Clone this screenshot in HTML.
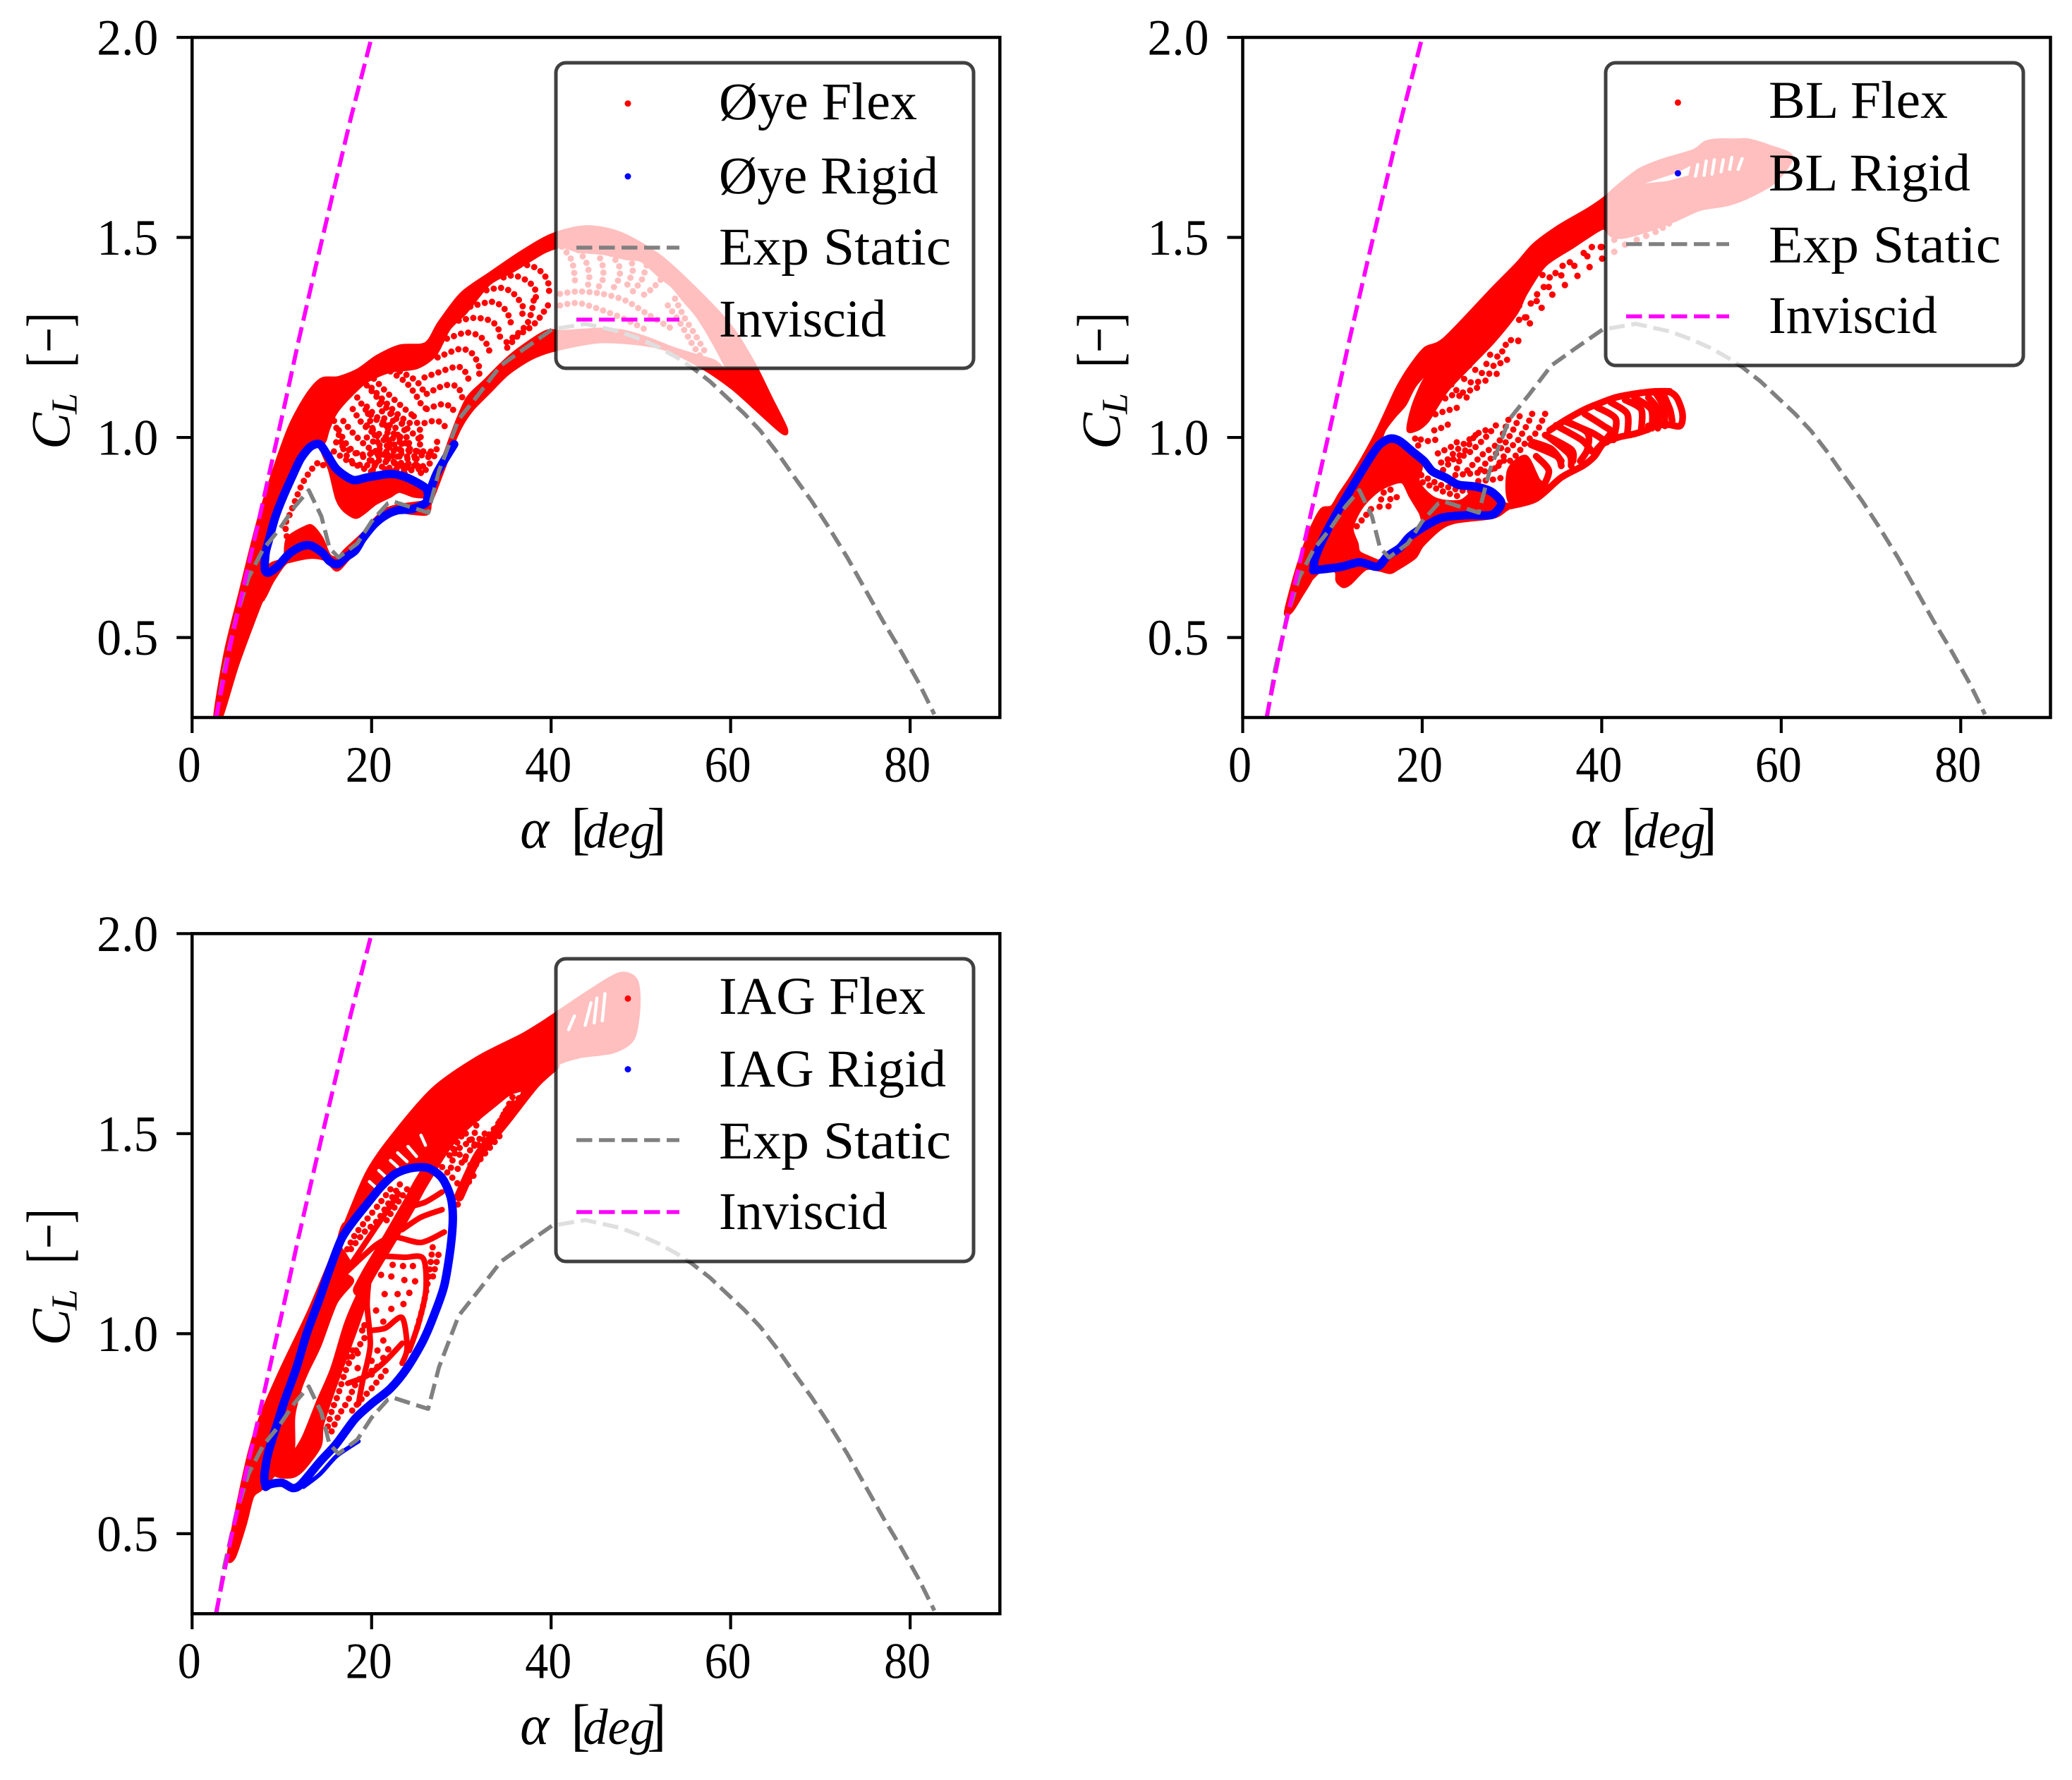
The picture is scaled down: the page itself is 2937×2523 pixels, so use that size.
<!DOCTYPE html>
<html lang="en">
<head>
<meta charset="utf-8">
<title>Lift coefficient versus angle of attack</title>
<style>
html,body{margin:0;padding:0;background:#fff;}
svg{display:block;}
text{font-family:"Liberation Serif",serif;fill:#000;}
.it{font-style:italic;}
.legend-box{fill:rgba(255,255,255,.75);stroke:rgba(0,0,0,.75);stroke-width:5;}
.lt{font-size:75px;}
</style>
</head>
<body>
<svg id="chart" xmlns="http://www.w3.org/2000/svg" width="2937" height="2523" viewBox="0 0 2937 2523">
<rect width="2937" height="2523" fill="#fff"/>
<defs>
<clipPath id="clip-oye"><rect x="272.3" y="53" width="1145" height="964"/></clipPath>
<clipPath id="clip-bl"><rect x="1761.5" y="53" width="1145" height="964"/></clipPath>
<clipPath id="clip-iag"><rect x="272.3" y="1323.3" width="1145" height="964"/></clipPath>
</defs>

<g id="panel-oye">
<g id="plot-oye" clip-path="url(#clip-oye)"></g>
<g id="axes-oye"></g>
<g>
<rect class="legend-box" x="788" y="89" width="592" height="433" rx="14"/>
<circle cx="890" cy="146.7" r="4.5" fill="#f00"/>
<text class="lt" x="1019" y="169" textLength="281" lengthAdjust="spacingAndGlyphs">Øye Flex</text>
<circle cx="890" cy="250" r="4.5" fill="#00f"/>
<text class="lt" x="1019" y="274" textLength="311" lengthAdjust="spacingAndGlyphs">Øye Rigid</text>
<line x1="817" x2="963" y1="351" y2="351" stroke="#808080" stroke-width="5.6" stroke-dasharray="22.5 9.5"/>
<text class="lt" x="1019" y="375" textLength="329" lengthAdjust="spacingAndGlyphs">Exp Static</text>
<line x1="817" x2="963" y1="453" y2="453" stroke="#f0f" stroke-width="5.6" stroke-dasharray="22.5 9.5"/>
<text class="lt" x="1019" y="477" textLength="237" lengthAdjust="spacingAndGlyphs">Inviscid</text>
</g>
</g>

<g id="panel-bl">
<g id="plot-bl" clip-path="url(#clip-bl)"></g>
<g id="axes-bl"></g>
<g>
<rect class="legend-box" x="2276" y="89" width="592" height="429" rx="14"/>
<circle cx="2378.4" cy="145.4" r="4.5" fill="#f00"/>
<text class="lt" x="2507" y="167" textLength="254" lengthAdjust="spacingAndGlyphs">BL Flex</text>
<circle cx="2378.4" cy="245.6" r="4.5" fill="#00f"/>
<text class="lt" x="2507" y="270" textLength="286" lengthAdjust="spacingAndGlyphs">BL Rigid</text>
<line x1="2305" x2="2451" y1="346" y2="346" stroke="#808080" stroke-width="5.6" stroke-dasharray="22.5 9.5"/>
<text class="lt" x="2507" y="372" textLength="329" lengthAdjust="spacingAndGlyphs">Exp Static</text>
<line x1="2305" x2="2451" y1="448.4" y2="448.4" stroke="#f0f" stroke-width="5.6" stroke-dasharray="22.5 9.5"/>
<text class="lt" x="2507" y="472" textLength="239" lengthAdjust="spacingAndGlyphs">Inviscid</text>
</g>
</g>

<g id="panel-iag">
<g id="plot-iag" clip-path="url(#clip-iag)"></g>
<g id="axes-iag"></g>
<g>
<rect class="legend-box" x="788" y="1359" width="592" height="429" rx="14"/>
<circle cx="890" cy="1415.4" r="4.5" fill="#f00"/>
<text class="lt" x="1019" y="1437" textLength="293" lengthAdjust="spacingAndGlyphs">IAG Flex</text>
<circle cx="890" cy="1515.6" r="4.5" fill="#00f"/>
<text class="lt" x="1019" y="1540" textLength="322" lengthAdjust="spacingAndGlyphs">IAG Rigid</text>
<line x1="817" x2="963" y1="1616" y2="1616" stroke="#808080" stroke-width="5.6" stroke-dasharray="22.5 9.5"/>
<text class="lt" x="1019" y="1642" textLength="329" lengthAdjust="spacingAndGlyphs">Exp Static</text>
<line x1="817" x2="963" y1="1718" y2="1718" stroke="#f0f" stroke-width="5.6" stroke-dasharray="22.5 9.5"/>
<text class="lt" x="1019" y="1742" textLength="239" lengthAdjust="spacingAndGlyphs">Inviscid</text>
</g>
</g>
</svg>

<script>
/* ---------- shared axis values ---------- */
const xTickValues = [0, 20, 40, 60, 80];
const xTickLabels = ["0", "20", "40", "60", "80"];
const yTickValues = [0.5, 1.0, 1.5, 2.0];
const yTickLabels = ["0.5", "1.0", "1.5", "2.0"];
const xDomain = [0, 90];
const yDomain = [0.3, 2.0];

/* ---------- shared reference curves: [alpha, CL] ---------- */
const expStatic = [[2.7,.3],[3.6,.42],[4.96,.555],[6.3,.65],[7.9,.72],[9.7,.77],[11.4,.826],[13,.868],[14.4,.803],[15.3,.724],[16.3,.70],[18.4,.735],[20,.79],[21.8,.835],[22.4,.84],[26.3,.812],[27.5,.916],[29.7,1.045],[31.9,1.107],[34.4,1.18],[36.9,1.22],[40.1,1.27],[43.8,1.284],[47.6,1.265],[50,1.245],[52,1.225],[54,1.2],[55.7,1.175],[57.7,1.14],[59.6,1.10],[61.5,1.06],[63.3,1.017],[65.2,.962],[67,.904],[69,.842],[70.8,.78],[73,.70],[75.2,.612],[77,.54],[79,.465],[81,.385],[82.7,.308]];
const inviscid = [[2.66,.3],[4.35,.49],[7.5,.80],[10.3,1.08],[11.8,1.235],[13.8,1.43],[16,1.64],[17.7,1.80],[20,2.0]];

/* ---------- Oye ---------- */
const oyeFlexMain = [[2.5,.30],[3.7,.465],[5.3,.61],[7.2,.78],[9.05,.916],[10.9,1.03],[12.8,1.107],[14.4,1.146],[16.3,1.15],[18.45,1.169],[20.6,1.203],[23.15,1.229],[26,1.235],[27.5,1.287],[30,1.36],[33.2,1.411],[36.9,1.467],[40.1,1.507],[43.8,1.527],[47.6,1.512],[52,1.456],[56.4,1.366],[60.1,1.276],[62.6,1.186],[64.5,1.10],[66.2,1.023],[65.8,1.011],[63.2,1.062],[60.1,1.124],[56.4,1.18],[52,1.225],[45.7,1.239],[40.4,1.218],[37.8,1.197],[35.2,1.159],[33.1,1.112],[31.3,1.071],[30.2,1.036],[29.4,1.0],[28.1,.924],[27.1,.865],[26.3,.824],[26.6,.88],[27.8,.94],[29.4,1.036],[30.7,1.1],[32.6,1.142],[34.4,1.183],[36.2,1.218],[39.4,1.265],[41.2,1.265],[45.7,1.271],[48.3,1.265],[50.9,1.247],[53.5,1.224],[56.2,1.205],[58.3,1.19],[59.8,1.159],[58.8,1.206],[57.5,1.259],[56.15,1.306],[54.6,1.347],[53.5,1.377],[52.2,1.4],[50.1,1.441],[48.3,1.447],[45.7,1.46],[43.05,1.465],[41.2,1.477],[39.4,1.465],[37.8,1.444],[35.7,1.415],[33.1,1.383],[30.5,1.312],[28.65,1.271],[27.1,1.206],[25,1.174],[22.1,1.165],[19.47,1.14],[17.5,1.10],[16,1.06],[15.2,1.02],[14.6,.985],[12.7,.98],[11.1,.9],[10.05,.847],[9.25,.8],[8.6,.747],[8.2,.712],[8.1,.671],[8.0,.60],[7.55,.58],[5.1,.432],[3.3,.302]];
const oyeFlexLowerHump = [[8.0,.60],[9,.641],[10.3,.683],[11.1,.691],[13.2,.70],[14.8,.694],[16.1,.668],[17.2,.69],[18.3,.72],[19.2,.76],[20.4,.79],[21.6,.81],[22.9,.815],[24.5,.81],[26.3,.81],[26.5,.845],[26,.84],[24.5,.835],[22.9,.83],[21.6,.82],[20.3,.795],[19,.76],[17.1,.72],[16.2,.70],[15.3,.706],[14.5,.747],[13.45,.777],[12.7,.777],[10.6,.747],[10.3,.69],[9.5,.69],[8.5,.675]];
const oyeFlexUpperHump = [[14.2,.983],[15.3,.918],[16.1,.847],[16.9,.818],[18.2,.80],[19.2,.812],[20.5,.835],[22.1,.853],[23.1,.865],[24.7,.853],[26.2,.853],[26.2,.877],[24.5,.90],[22.4,.912],[20.5,.903],[18.2,.897],[16.1,.924]];
const oyeFlexArcs = [
[[36.5,1.431],[37.8,1.429],[39,1.412],[39.65,1.389],[39.8,1.356]],
[[34.7,1.4],[35.85,1.405],[37.3,1.392],[38.2,1.371],[38.3,1.342]],
[[32.8,1.368],[34.4,1.374],[35.7,1.362],[36.8,1.33],[36.8,1.309]],
[[31,1.327],[33.4,1.339],[34.7,1.324],[35.45,1.295],[35.45,1.274]],
[[29.7,1.292],[31.5,1.299],[33.1,1.293],[34,1.277],[34.3,1.253],[34.15,1.236]],
[[28.4,1.247],[30.5,1.262],[32.05,1.253],[33,1.227],[33.1,1.212]],
[[27.35,1.2],[29.8,1.221],[31.1,1.212],[31.9,1.183],[32,1.159]],
[[25.9,1.15],[27.35,1.162],[29.55,1.177],[30.5,1.162],[31,1.13]],
[[26.15,1.109],[28.1,1.13],[29.55,1.127],[30.1,1.1],[30,1.089]],
[[26.15,1.071],[27.85,1.083],[29.05,1.074],[28.9,1.059]],
[[25.9,1.036],[27.2,1.042],[28.1,1.03],[28.1,1.015]],
[[38.05,1.342],[37.8,1.312],[37.3,1.283],[36.25,1.259],[34.9,1.236]],
[[39.65,1.33],[38.75,1.3],[37.8,1.277],[36.25,1.253],[34.65,1.212]],
[[22.1,1.165],[23.9,1.136],[25.1,1.1],[25.6,1.08],[26.15,1.071]],
[[23.15,1.165],[24.95,1.142],[25.9,1.112]],
[[20.25,1.147],[21.85,1.109],[23.4,1.077],[24.85,1.05]],
[[19.47,1.13],[21.05,1.089],[22.75,1.047],[24.05,1.021],[25.35,.995]],
[[19.47,1.077],[20.8,1.047],[22.1,1.03]],
[[19.47,1.03],[21.05,1.006],[22.35,.998],[23.4,1.003]],
[[19.47,1.0],[21.05,.98],[22.9,.983],[24.2,.986]],
[[20,.942],[21.55,.942],[23.4,.936],[24.95,.933],[25.9,.927]],
[[20,.962],[21.85,.965],[23.9,.968],[25.75,.965],[27.1,.965]],
[[18.4,1.1],[19.5,1.065],[21.05,1.035],[22.35,1.012],[23.65,.988],[24.7,.959]],
[[20,1.124],[21.55,1.088],[23.15,1.053],[24.7,1.03]],
[[17.9,1.071],[18.95,1.035],[20.5,1.006],[22.1,.983],[23.65,.953]],
[[16.85,1.041],[17.9,1.012],[19.5,.977],[21.05,.959],[22.6,.935],[24.2,.924]],
[[16.35,1.018],[17.4,.977],[18.95,.953],[20.5,.935]],
[[15.55,1.059],[16.35,1.006],[17.1,.959],[18.4,.93],[20.3,.912]],
[[15.8,.965],[17.9,.935],[20,.93],[22.1,.924],[24.2,.918],[26,.924]],
[[16.05,.988],[18.4,.959],[20.5,.959],[22.6,.953],[24.7,.953],[26.55,.959]],
[[25.75,.965],[26.55,.942],[26,.918]],
[[27.3,.989],[27.2,.965],[26.7,.942]],
[[24.95,.965],[25.1,.933],[25.6,.906]],
[[23.4,1.036],[23.9,1.0],[24.2,.965],[23.8,.933],[23.65,.906]],
[[24.7,1.053],[25.4,1.018],[25.4,.983],[24.85,.948],[24.7,.912]],
[[22.1,1.059],[22.75,1.018],[23.15,.983],[22.75,.942],[22.5,.912]],
[[20.9,1.083],[21.55,1.036],[21.95,.977],[21.55,.936],[21.55,.912]],
[[19.6,1.059],[20.25,1.012],[20.9,.965],[20,.912]],
[[10.55,.753],[10.4,.783],[10.85,.806],[12.25,.883],[13.45,.924],[14.25,.938],[15,.918]],
[[41.2,1.477],[42.3,1.442],[42.65,1.394],[42.55,1.377]],
[[43.05,1.468],[43.95,1.436],[44.25,1.4],[44,1.371]],
[[45.15,1.465],[45.8,1.424],[45.7,1.389],[45.3,1.377]],
[[46.7,1.459],[47.65,1.424],[47.5,1.395],[46.85,1.371]],
[[48.8,1.453],[49.1,1.418],[48.4,1.377]],
[[50.65,1.43],[50.1,1.394],[49.1,1.365]],
[[52.2,1.394],[51.2,1.371],[50.1,1.353]],
[[41,1.359],[43.05,1.365],[45.7,1.359],[48.3,1.342],[50.9,1.306],[53.5,1.271]],
[[41,1.33],[43.05,1.336],[45.7,1.318],[48.3,1.295],[50.9,1.265]],
[[53.8,1.347],[54.85,1.3],[56.15,1.253],[57.2,1.212]],
[[53,1.33],[54.3,1.289],[55.65,1.236],[56.7,1.2]]
];
const oyeRigid = [[29.2,.983],[27.3,.912],[26.3,.853],[26,.836],[24.5,.821],[22.9,.818],[21.6,.806],[20.3,.783],[19,.747],[18.2,.718],[17.1,.70],[16.2,.683],[15.3,.691],[14.5,.712],[13.2,.73],[12.1,.727],[10.8,.709],[9.5,.677],[8.5,.662],[8.1,.671],[8.2,.712],[8.6,.747],[9.25,.80],[10.05,.847],[11.1,.90],[12.1,.947],[13.2,.977],[14.2,.983],[15,.959],[16.1,.921],[17.9,.894],[19.5,.90],[22.1,.909],[23.9,.90],[26,.874],[26.3,.853]];

/* ---------- Beddoes-Leishman ---------- */
const blFlexUpper = [[4.74,.562],[5.7,.647],[6.6,.712],[7.7,.777],[8.8,.821],[9.9,.827],[10.8,.859],[12.2,.906],[13.9,.971],[15,1.018],[16.1,1.071],[17.2,1.124],[18.6,1.176],[20.3,1.223],[22.5,1.248],[28,1.377],[30.55,1.435],[32.4,1.482],[35.25,1.529],[38.4,1.57],[40.35,1.6],[41.8,1.629],[44.2,1.67],[46.8,1.694],[50.2,1.717],[51.5,1.738],[52.8,1.744],[54.9,1.744],[56.35,1.744],[58.6,1.729],[61.2,1.702],[59.4,1.641],[56.75,1.605],[54.1,1.582],[51,1.57],[48.35,1.544],[45.2,1.517],[42.35,1.5],[41,1.505],[40.2,1.523],[38.4,1.5],[36.8,1.476],[33.7,1.43],[31.6,1.36],[30.5,1.31],[28,1.24],[25,1.17],[22.9,1.12],[21.7,1.08],[20.6,1.04],[19.5,1.02],[18.4,1.018],[18.9,1.075],[20,1.135],[20.9,1.17],[19.2,1.129],[18.1,1.082],[16.96,1.053],[15.8,1.018],[15,.971],[13.6,.935],[11.35,.853],[9.4,.771],[8,.677],[7.7,.647],[6.6,.606],[5.45,.565]];
const blFlexLower = [[7.7,.647],[8.8,.668],[10.35,.665],[10.5,.641],[11.2,.627],[12,.635],[13.7,.671],[15.25,.668],[16.4,.662],[17.25,.671],[19.2,.70],[20.05,.73],[22,.771],[23.7,.788],[27.9,.80],[29.3,.818],[29.9,.829],[28.5,.835],[27.05,.806],[22.6,.803],[20.3,.788],[17.5,.724],[15,.691],[12.75,.697],[8.55,.677]];
const blFlexWedge = [[16.4,.991],[18.65,.959],[19.9,.929],[19.6,.888],[21.45,.847],[24.25,.841],[26.25,.871],[28.5,.835],[27.05,.806],[22.6,.803],[20.3,.788],[19.75,.812],[18.65,.853],[17.8,.888],[16.4,.882],[15,.865],[13.6,.835],[12.75,.806],[12.2,.771],[12.75,.735],[13.05,.712],[15,.691],[12.75,.697],[8.55,.677],[8,.677],[9.4,.771],[11.35,.853],[13.6,.935],[15,.971]];
const blFlexBranchBase = [[29.6,.918],[29.9,.835],[34.1,.871],[33,.894],[31.55,.953]];
const blFlexThick = [
[[45.2,1.029],[47.3,1.032],[48.75,1.029],[49,1.059],[48.35,1.1],[47.3,1.115],[45.2,1.112]],
[[46.8,1.112],[47.6,1.07],[47.85,1.041]],
[[46,1.112],[46.9,1.076],[47.05,1.029]],
[[45.2,1.1],[46.25,1.07],[46.25,1.023]],
[[43.65,1.1],[45.5,1.07],[45.6,1.023]],
[[42.6,1.094],[44.4,1.07],[44.4,1.018]],
[[41,1.088],[42.85,1.059],[42.85,1.006]],
[[39.45,1.076],[41.55,1.047],[41.3,.994]],
[[38.1,1.059],[40.2,1.029],[41,1.012],[39.45,.97]],
[[36,1.041],[38.4,1.012],[38.4,.97],[37.6,.941]],
[[33.7,1.006],[36.6,.97],[36.8,.941]],
[[32.1,.982],[35,.953],[35.5,.929]],
[[34.2,1.018],[36,1.044],[38.1,1.07],[39.7,1.085],[41.55,1.1],[43.65,1.109],[46,1.115],[47.6,1.115]],
[[45.2,1.02],[43.65,1.009],[41.8,1],[40.2,.985],[39.2,.953],[37.9,.929],[35.5,.9],[32.7,.847],[29.9,.829]],
[[32.4,.988],[34.4,.971],[35.5,.941]],
[[32.7,.953],[34.1,.918],[33.5,.877]],
[[31.55,.941],[32.7,.894],[32.15,.853]],
[[34.9,1.03],[37.75,.994],[38.9,.965]],
[[35.8,1.041],[38.9,1.012],[40.55,.988]],
[[33.8,1.006],[36.35,.959],[36.6,.929]]
];
const blFlexArcs = [
[[33.7,1.059],[33.1,1.029],[32.7,1.012],[31.55,.988],[30.6,.959],[29.75,.941]],
[[32.25,1.059],[31.7,1.032],[30.6,.991],[29.6,.971],[28.75,.941],[27.9,.918]],
[[30.85,1.053],[30.3,1.026],[29.3,.988],[28.2,.959],[27.05,.935],[26.25,.912]],
[[29.6,1.044],[28.5,.988],[26.8,.959],[25.5,.929],[24.55,.906]],
[[28.2,1.03],[27.05,1],[25.4,.965],[24.25,.947],[23.7,.906]],
[[27.05,1.018],[25.95,1.006],[24.7,.965],[23.4,.944],[22.3,.918]],
[[25.95,1.006],[24.85,.988],[23.7,.965],[22.6,.941],[21.45,.935]],
[[23.85,.988],[22.85,.971],[22,.965],[21.45,.953]],
[[21.45,.994],[20.3,.991],[19.2,1.0],[19.75,.971]],
[[19.9,.906],[22,.882],[24.25,.868],[25.95,.865]],
[[20.05,.888],[22.3,.865],[24,.853]],
[[26.25,.891],[27.65,.894],[29.05,.9]],
[[23.7,.906],[25.1,.909],[26.25,.912],[27.35,.918],[28.5,.929],[29.3,.947]],
[[22.85,1.032],[21.45,1.018],[20.6,1.024]],
[[23.85,1.074],[22,1.062],[20.9,1.053]],
[[24.95,1.1],[23.4,1.106],[22.3,1.094]],
[[26.1,1.124],[24.25,1.112],[23.15,1.135]],
[[27.05,1.142],[25.4,1.138],[24.25,1.153]],
[[28.3,1.159],[26.5,1.162],[25.1,1.182]],
[[29.45,1.194],[27.9,1.179],[26.8,1.188]],
[[30.7,1.241],[29.6,1.241],[28.5,1.203],[27.05,1.212]],
[[15.25,.827],[15.7,.862],[16.8,.871]],
[[16.25,.828],[16.55,.85],[17.4,.85]],
[[14.3,.821],[13.3,.794],[12.45,.771]]
];
const blFlexDots = [[40.05,1.447],[38.65,1.426],[37.3,1.404],[35.9,1.381],[34.5,1.357],[33.3,1.324],[32,1.285],[30.7,1.242],[39.9,1.476],[38.4,1.453],[36.95,1.429],[35.5,1.405],[34.1,1.376],[32.8,1.358],[31.6,1.3],[40,1.476],[38.9,1.476],[38,1.461],[36.45,1.438],[35.65,1.429],[34.85,1.411],[34.2,1.4],[33.4,1.406],[33.55,1.376],[32.75,1.341],[32.1,1.335],[31.45,1.3],[30.8,1.294],[30.8,1.329],[41.4,1.494],[41.4,1.464],[42.6,1.482],[43.9,1.494],[44.95,1.504],[46,1.514],[46.8,1.524],[47.5,1.535],[48.15,1.546]];
const blFlexGaps = [
[[44.8,1.635],[46.8,1.65],[48.35,1.661],[49.9,1.679],[49.65,1.655],[47.3,1.641]],
[[50.7,1.682],[50.45,1.653]],
[[51.65,1.691],[51.4,1.655]],
[[52.55,1.694],[52.3,1.658]],
[[53.55,1.694],[53.3,1.664]],
[[54.5,1.7],[54.25,1.67]],
[[55.65,1.697],[55.2,1.67]]
];
const blRigid = [[7.85,.668],[8.1,.7],[9.1,.753],[10.5,.812],[11.9,.865],[13,.906],[14.3,.953],[15.25,.982],[16.4,.997],[17.5,.991],[18.9,.965],[20.2,.941],[21.15,.915],[22.6,.9],[24,.882],[25.95,.877],[27.65,.865],[28.75,.841],[28.6,.824],[27.65,.806],[25.1,.806],[22.3,.8],[20.6,.782],[18.65,.753],[17.5,.724],[16.1,.703],[15,.677],[13.05,.688],[11.05,.677],[9.1,.671],[7.85,.668]];

/* ---------- IAG ---------- */
const iagFlexMain = [[4.05,.454],[6.2,.69],[7.8,.803],[10,.916],[13.1,1.062],[16.25,1.231],[19.4,1.4],[22.5,1.501],[26.9,1.614],[31.9,1.692],[36.9,1.749],[40.1,1.794],[43.8,1.85],[47.6,1.9],[49.5,1.884],[49.8,1.816],[49.15,1.737],[46.95,1.704],[43.2,1.692],[40.4,1.67],[38.2,1.62],[35.5,1.6],[33,1.56],[30.5,1.51],[28.5,1.47],[26.5,1.43],[25,1.414],[22.6,1.399],[21.05,1.367],[19.45,1.323],[17.9,1.279],[16.85,1.273],[16.3,1.228],[17.1,1.197],[17.64,1.172],[16.85,1.153],[17.9,1.131],[16.05,1.077],[14.25,.97],[12.9,.907],[12.1,.863],[11.35,.794],[11.2,.699],[9.25,.649],[7.7,.611],[6.75,.592],[5.95,.524],[4.7,.44]];
const iagFlexDiagonal = [[11.2,.699],[12.4,.743],[14,.832],[15.55,.913],[17.1,1.027],[18.7,1.109],[19.5,1.134],[19.2,1.071],[17.65,.97],[16.6,.907],[15.3,.825],[14.5,.768],[14.25,.718],[12.4,.661],[11.1,.642],[9.25,.649]];
const iagFlexThick = [
[[16.85,1.147],[20.5,1.222],[22.6,1.241],[25.5,1.228],[28.1,1.254]],
[[21.05,1.194],[23.65,1.191],[25.75,1.188],[26.05,1.109],[25.25,1.027],[24.2,.958]],
[[19.75,1.147],[19.5,1.071],[19.85,.97],[18.95,.876],[18.55,.825]],
[[20,1.008],[21.55,1.014],[23.4,1.04],[23.95,.964],[23.4,.926]],
[[17.35,.876],[19.5,.895],[21.55,.932],[23.4,.976]],
[[24.2,1.317],[26,1.329],[27.85,1.354]],
[[23.4,1.26],[25.5,1.291],[27.85,1.31]],
[[17,1.15],[20,1.25],[23,1.35]]
];
const iagFlexBand = [[18.7,1.109],[19.75,1.153],[22.1,1.241],[24.2,1.323],[25.75,1.386],[29.15,1.5],[35.05,1.613],[39.4,1.704]];
const iagFlexEdge = [[29.75,1.343],[31.9,1.445],[35.05,1.535],[38.2,1.625],[40.4,1.67]];
const iagFlexArcs = [
[[26.8,1.216],[26.3,1.134],[25.75,1.071],[25,1.008]],
[[27.45,1.197],[26.8,1.14]],
[[22.1,1.361],[20.8,1.323],[19.45,1.285],[18.15,1.247],[17.1,1.203]],
[[23.15,1.373],[21.8,1.323],[20.5,1.279],[19.2,1.254],[17.65,1.21]],
[[23.95,1.361],[22.6,1.317],[21.55,1.279]],
[[29.6,1.323],[30,1.367],[31.5,1.418],[32.6,1.449],[34.7,1.506]],
[[27.3,1.43],[28.9,1.392],[30.2,1.367],[31.5,1.399]],
[[28.65,1.474],[30,1.443],[31.25,1.417]],
[[30.5,1.5],[31.25,1.474],[32.6,1.449]],
[[30,1.493],[28.9,1.455],[28.4,1.43]],
[[32.6,1.5],[31.5,1.474],[30.5,1.443],[29.4,1.405]],
[[31.9,1.557],[31.3,1.49],[29.4,1.456],[28.8,1.411]],
[[35.7,1.591],[34.4,1.535],[33.2,1.501],[31.3,1.46]],
[[38.2,1.65],[36.9,1.6],[35.05,1.56],[33.8,1.51]],
[[19.2,.989],[17.9,.945],[17.1,.907],[16.3,.85],[15.55,.806],[15,.756]],
[[20,.907],[18.45,.882],[17.35,.832],[16.3,.794],[15.3,.743]],
[[21.55,.907],[20,.863],[18.7,.832],[17.35,.794]],
[[17.1,1.153],[15.3,1.071],[14.25,1.008],[13.45,.958],[12.65,.907]]
];
const iagFlexDots = [[22.35,1.172],[23.5,1.169],[24.6,1.169],[21.05,1.147],[22.2,1.143],[23.65,1.134],[24.85,1.131],[21.45,1.099],[22.9,1.099],[24.2,1.102],[20.5,1.058],[22.2,1.062],[23.55,1.074],[21.3,1.03],[19.2,1.021],[21.3,.983],[20.65,.958],[21.85,.961],[21.3,.939],[20,.932],[20.65,.917],[20,.898],[18.45,.914],[17.9,.958],[17.35,.942],[18.45,.951],[18.95,1.008]];
const iagFlexGaps = [
[[19.75,1.38],[20.55,1.364]],
[[20.8,1.408],[21.7,1.389]],
[[22.1,1.433],[22.9,1.417]],
[[22.9,1.452],[23.95,1.43]],
[[24.05,1.468],[25,1.443]],
[[25.5,1.496],[26,1.471]],
[[44.45,1.827],[43.8,1.771]],
[[46,1.85],[45.7,1.782]],
[[45.1,1.839],[44.8,1.777]],
[[42.6,1.794],[41.95,1.76]]
];
const iagRigid = [[8.2,.617],[8.05,.643],[8.45,.699],[9.4,.769],[10.3,.832],[11.6,.913],[12.8,1.002],[14.25,1.09],[15.3,1.159],[16.6,1.235],[17.9,1.279],[19.45,1.323],[21.05,1.367],[22.6,1.399],[24.45,1.414],[26.3,1.414],[27.85,1.389],[28.8,1.342],[29.05,1.291],[28.8,1.216],[28.1,1.121],[27.05,1.052],[25.75,.983],[23.95,.914],[22.1,.863],[20,.825],[18.15,.787],[16.05,.724],[14.25,.68],[12.15,.624],[11.2,.614],[10.05,.627],[8.75,.624],[8.2,.617]];
const iagRigidTail = [[12.4,.617],[14.25,.649],[16.05,.693],[17.65,.718],[18.55,.731]];

/* ---------- drawing ---------- */
const SVGNS = "http://www.w3.org/2000/svg";
function axisX(box, value) {
  return box.left + (value - xDomain[0]) / (xDomain[1] - xDomain[0]) * box.width;
}
function axisY(box, value) {
  return box.top + box.height - (value - yDomain[0]) / (yDomain[1] - yDomain[0]) * box.height;
}
function pointString(box, series) {
  return series.map(function (p) { return axisX(box, p[0]).toFixed(1) + "," + axisY(box, p[1]).toFixed(1); }).join(" ");
}
function smoothPath(box, series, closed) {
  const pts = series.map(function (p) { return [axisX(box, p[0]), axisY(box, p[1])]; });
  const n = pts.length;
  const at = function (i) {
    if (closed) { return pts[(i + n) % n]; }
    return pts[Math.max(0, Math.min(n - 1, i))];
  };
  let d = "M" + pts[0][0].toFixed(1) + " " + pts[0][1].toFixed(1);
  const last = closed ? n : n - 1;
  for (let i = 0; i < last; i++) {
    const p0 = at(i - 1), p1 = at(i), p2 = at(i + 1), p3 = at(i + 2);
    const c1x = p1[0] + (p2[0] - p0[0]) / 7, c1y = p1[1] + (p2[1] - p0[1]) / 7;
    const c2x = p2[0] - (p3[0] - p1[0]) / 7, c2y = p2[1] - (p3[1] - p1[1]) / 7;
    d += "C" + c1x.toFixed(1) + " " + c1y.toFixed(1) + " " + c2x.toFixed(1) + " " + c2y.toFixed(1) + " " + p2[0].toFixed(1) + " " + p2[1].toFixed(1);
  }
  return closed ? d + "Z" : d;
}
function drawPolygon(parent, box, series) {
  const el = document.createElementNS(SVGNS, "path");
  
  
  el.setAttribute("d", smoothPath(box, series, true));
  el.setAttribute("fill", "#f00");
  el.setAttribute("stroke", "#f00");
  el.setAttribute("stroke-width", "4");
  el.setAttribute("stroke-linejoin", "round");
  parent.appendChild(el);
}
function drawSmooth(parent, box, series, color, width, name) {
  const el = document.createElementNS(SVGNS, "path");
  
  
  el.setAttribute("d", smoothPath(box, series, false));
  el.setAttribute("fill", "none");
  el.setAttribute("stroke", color);
  el.setAttribute("stroke-width", width);
  el.setAttribute("stroke-linejoin", "round");
  el.setAttribute("stroke-linecap", "round");
  parent.appendChild(el);
}
function drawDotted(parent, box, series, name) {
  const el = document.createElementNS(SVGNS, "path");
  
  
  el.setAttribute("d", smoothPath(box, series, false));
  el.setAttribute("fill", "none");
  el.setAttribute("stroke", "#f00");
  el.setAttribute("stroke-width", "9");
  el.setAttribute("stroke-linecap", "round");
  el.setAttribute("stroke-dasharray", "0 10.5");
  parent.appendChild(el);
}
function drawDashed(parent, box, series, color, name) {
  const el = document.createElementNS(SVGNS, "polyline");
  
  
  el.setAttribute("points", pointString(box, series));
  el.setAttribute("fill", "none");
  el.setAttribute("stroke", color);
  el.setAttribute("stroke-width", "5.8");
  el.setAttribute("stroke-linejoin", "round");
  el.setAttribute("stroke-dasharray", "22.5 9.5");
  parent.appendChild(el);
}
function drawDots(parent, box, series, color, radius) {
  series.forEach(function (p) {
    const el = document.createElementNS(SVGNS, "circle");
    
    
    el.setAttribute("cx", axisX(box, p[0]).toFixed(1));
    el.setAttribute("cy", axisY(box, p[1]).toFixed(1));
    el.setAttribute("r", radius);
    el.setAttribute("fill", color);
    parent.appendChild(el);
  });
}
function drawGaps(parent, box, list) {
  list.forEach(function (gap) {
    if (gap.length > 2) {
      const el = document.createElementNS(SVGNS, "polygon");
      
      
      el.setAttribute("points", pointString(box, gap));
      el.setAttribute("fill", "#fff");
      parent.appendChild(el);
    } else {
      drawSmooth(parent, box, gap, "#fff", 4.5, "flex-cloud-gap");
    }
  });
}
function addText(parent, str, x, y, size, name, opts) {
  const el = document.createElementNS(SVGNS, "text");
  
  
  el.setAttribute("x", x);
  el.setAttribute("y", y);
  el.setAttribute("font-size", size);
  if (opts.italic) {
    el.setAttribute("font-style", "italic");
  }
  if (opts.anchor) {
    el.setAttribute("text-anchor", opts.anchor);
  }
  if (opts.length) {
    el.setAttribute("textLength", opts.length);
    el.setAttribute("lengthAdjust", "spacingAndGlyphs");
  }
  if (opts.rotate) {
    el.setAttribute("transform", "rotate(-90 " + x + " " + y + ")");
  }
  el.textContent = str;
  parent.appendChild(el);
}
function addRule(parent, x1, y1, x2, y2, width, name) {
  const el = document.createElementNS(SVGNS, "line");
  
  
  el.setAttribute("x1", x1);
  el.setAttribute("y1", y1);
  el.setAttribute("x2", x2);
  el.setAttribute("y2", y2);
  el.setAttribute("stroke", "#000");
  el.setAttribute("stroke-width", width);
  parent.appendChild(el);
}
function drawAxes(parent, box) {
  const l = box.left, t = box.top, b = box.top + box.height;
  const frame = document.createElementNS(SVGNS, "rect");
  
  
  frame.setAttribute("x", l);
  frame.setAttribute("y", t);
  frame.setAttribute("width", box.width);
  frame.setAttribute("height", box.height);
  frame.setAttribute("fill", "none");
  frame.setAttribute("stroke", "#000");
  frame.setAttribute("stroke-width", "4.5");
  parent.appendChild(frame);
  xTickValues.forEach(function (v, i) {
    const px = axisX(box, v);
    addRule(parent, px, b, px, b + 22, 4.2, "x-tick-mark");
    const widths = i === 0 ? 33 : 66;
    addText(parent, xTickLabels[i], px - 4, b + 91, 72, "x-tick-label", { anchor: "middle", length: widths });
  });
  yTickValues.forEach(function (v, i) {
    const py = axisY(box, v);
    addRule(parent, l - 22, py, l, py, 4.2, "y-tick-mark");
    addText(parent, yTickLabels[i], l - 135, py + 24.5, 72, "y-tick-label", { length: 87 });
  });
  addText(parent, "α", l + 465, b + 184.7, 80, "x-axis-title-symbol", { italic: true, length: 41 });
  addText(parent, "[", l + 537, b + 184.7, 82, "x-axis-title-bracket", {});
  addText(parent, "deg", l + 554, b + 184.7, 72, "x-axis-title-unit", { italic: true, length: 102 });
  addText(parent, "]", l + 645, b + 184.7, 82, "x-axis-title-bracket", {});
  const cy = t + 487;
  addText(parent, "C", l - 174, cy + 97, 78, "y-axis-title-symbol", { italic: true, rotate: true, length: 52 });
  addText(parent, "L", l - 164, cy + 47, 52, "y-axis-title-subscript", { italic: true, rotate: true, length: 30 });
  addText(parent, "[−]", l - 174, cy - 19, 88, "y-axis-title-unit", { rotate: true, length: 78 });
}

const boxOye = { left: 272.3, top: 53, width: 1145, height: 964 };
const boxBl = { left: 1761.5, top: 53, width: 1145, height: 964 };
const boxIag = { left: 272.3, top: 1323.3, width: 1145, height: 964 };

/* Oye panel */
(function () {
  const g = document.getElementById("plot-oye");
  drawPolygon(g, boxOye, oyeFlexMain);
  drawPolygon(g, boxOye, oyeFlexLowerHump);
  drawPolygon(g, boxOye, oyeFlexUpperHump);
  oyeFlexArcs.forEach(function (arc) { drawDotted(g, boxOye, arc, "oye-flex-point-trace"); });
  drawSmooth(g, boxOye, oyeRigid, "#00f", 12, "oye-rigid-series");
  drawDashed(g, boxOye, expStatic, "#808080", "exp-static-line");
  drawDashed(g, boxOye, inviscid, "#f0f", "inviscid-line");
  drawAxes(document.getElementById("axes-oye"), boxOye);
})();

/* BL panel */
(function () {
  const g = document.getElementById("plot-bl");
  drawPolygon(g, boxBl, blFlexUpper);
  drawPolygon(g, boxBl, blFlexLower);
  drawPolygon(g, boxBl, blFlexWedge);
  drawPolygon(g, boxBl, blFlexBranchBase);
  blFlexThick.forEach(function (arc) { drawSmooth(g, boxBl, arc, "#f00", 9.5, "bl-flex-point-band"); });
  blFlexArcs.forEach(function (arc) { drawDotted(g, boxBl, arc, "bl-flex-point-trace"); });
  drawDots(g, boxBl, blFlexDots, "#f00", 4.6);
  drawGaps(g, boxBl, blFlexGaps);
  drawSmooth(g, boxBl, blRigid, "#00f", 12, "bl-rigid-series");
  drawDashed(g, boxBl, expStatic, "#808080", "exp-static-line");
  drawDashed(g, boxBl, inviscid, "#f0f", "inviscid-line");
  drawAxes(document.getElementById("axes-bl"), boxBl);
})();

/* IAG panel */
(function () {
  const g = document.getElementById("plot-iag");
  drawPolygon(g, boxIag, iagFlexMain);
  drawPolygon(g, boxIag, iagFlexDiagonal);
  drawSmooth(g, boxIag, iagFlexBand, "#f00", 20, "iag-flex-point-band");
  drawSmooth(g, boxIag, iagFlexEdge, "#f00", 14, "iag-flex-point-edge");
  iagFlexThick.forEach(function (arc) { drawSmooth(g, boxIag, arc, "#f00", 8, "iag-flex-point-band"); });
  iagFlexArcs.forEach(function (arc) { drawDotted(g, boxIag, arc, "iag-flex-point-trace"); });
  drawDots(g, boxIag, iagFlexDots, "#f00", 4.6);
  drawGaps(g, boxIag, iagFlexGaps);
  drawSmooth(g, boxIag, iagRigidTail, "#00f", 6, "iag-rigid-tail");
  drawSmooth(g, boxIag, iagRigid, "#00f", 12, "iag-rigid-series");
  drawDashed(g, boxIag, expStatic, "#808080", "exp-static-line");
  drawDashed(g, boxIag, inviscid, "#f0f", "inviscid-line");
  drawAxes(document.getElementById("axes-iag"), boxIag);
})();
</script>
</body>
</html>
